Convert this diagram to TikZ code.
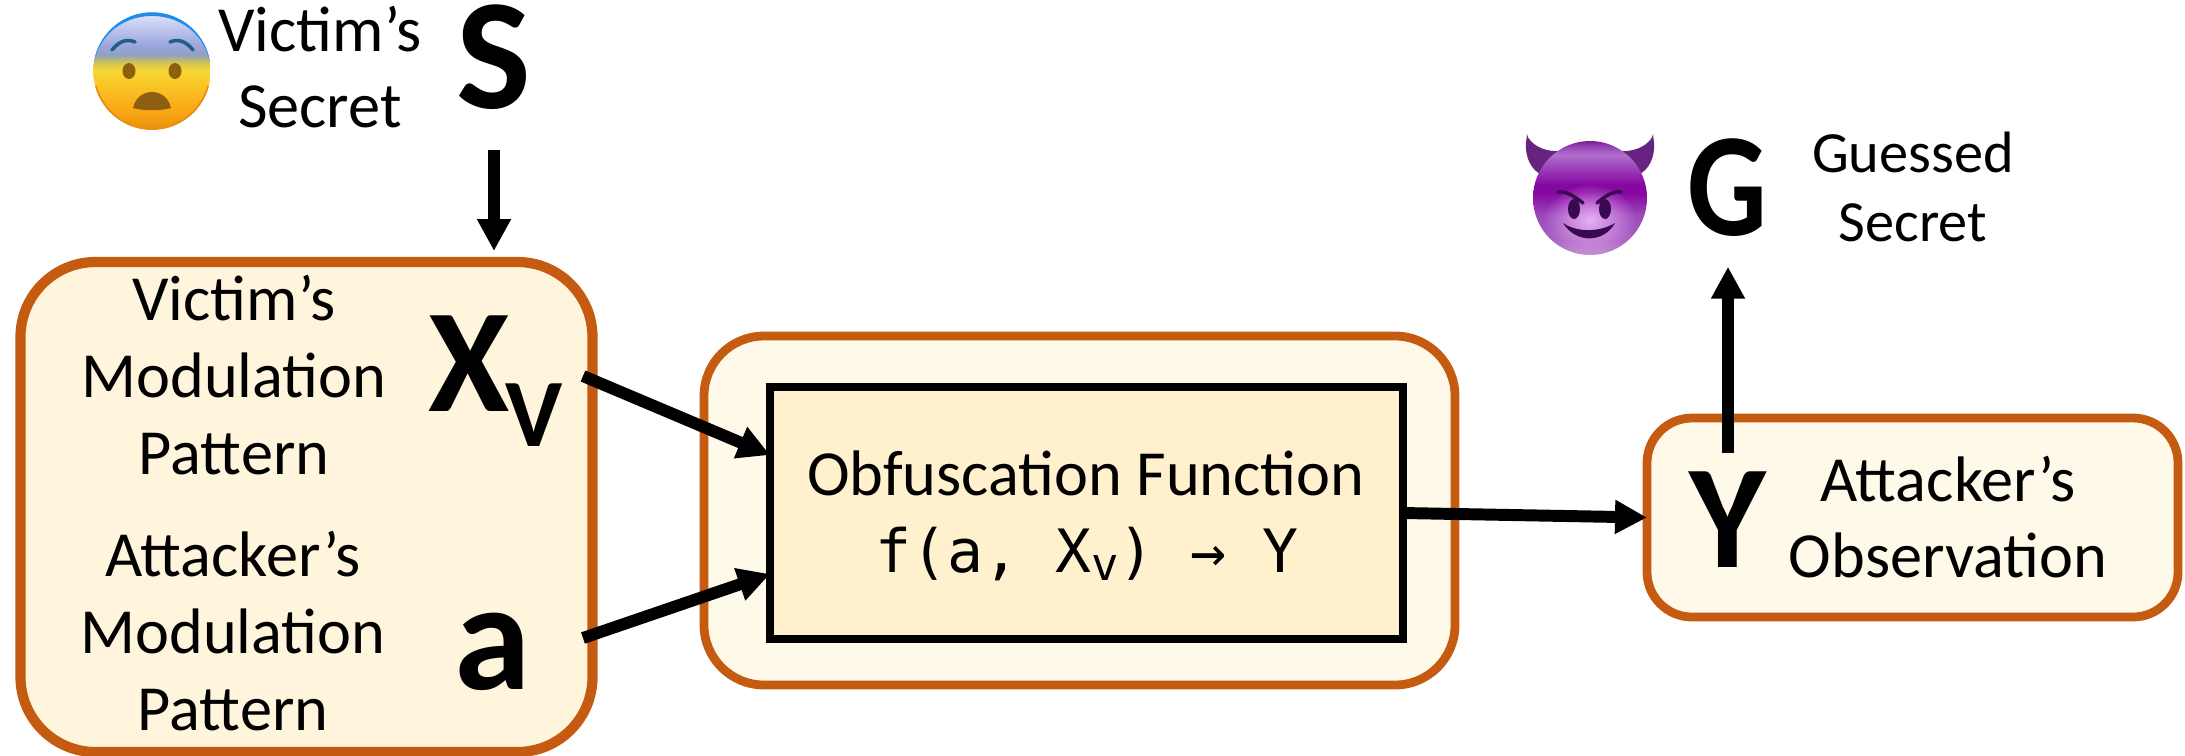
\documentclass[tikz,border=0pt]{standalone}
\usepackage{fontspec}
\setmainfont{Carlito}
\newfontfamily\codefont{DejaVu Sans Mono}
\usetikzlibrary{arrows.meta,fadings}
\definecolor{rimorange}{HTML}{C55A11}
\definecolor{softcream}{HTML}{FFF9E9}
\definecolor{midcream}{HTML}{FFF4DC}
\definecolor{corecream}{HTML}{FFF1CD}
\definecolor{fearbottom}{HTML}{E8900C}
\definecolor{fearamber}{HTML}{FBA816}
\definecolor{fearyellow}{HTML}{F7D832}
\definecolor{fearolive}{HTML}{C8C060}
\definecolor{feargrey}{HTML}{90A0C0}
\definecolor{fearblue}{HTML}{9AA6DE}
\definecolor{fearpale}{HTML}{D8DCF8}
\definecolor{fearrim}{HTML}{1E8CE8}
\definecolor{fearbrow}{HTML}{1F5F7F}
\definecolor{fearbrown}{HTML}{8F5F10}
\definecolor{devillight}{HTML}{E8B0F6}
\definecolor{devilhigh}{HTML}{B070CC}
\definecolor{devilglow}{HTML}{9C4ABB}
\definecolor{devildeep}{HTML}{8608A2}
\definecolor{deviledge}{HTML}{7A1E98}
\definecolor{devillow}{HTML}{A860C0}
\definecolor{devilrim}{HTML}{C090D0}
\definecolor{devilhorn}{HTML}{682280}
\definecolor{devilink}{HTML}{3A0A50}
\pgfdeclareverticalshading{fearshade}{100bp}{
    color(0bp)=(fearbottom); color(25bp)=(fearbottom); color(33.5bp)=(fearamber);
    color(50.4bp)=(fearyellow); color(54bp)=(fearolive); color(57bp)=(feargrey);
    color(61bp)=(fearblue); color(73bp)=(fearpale); color(100bp)=(fearpale)}
\pgfdeclareverticalshading{devilshade}{100bp}{
    color(0bp)=(devilrim); color(25bp)=(devilrim); color(31.6bp)=(devillow);
    color(42.5bp)=(devilglow); color(52bp)=(devildeep); color(56bp)=(devildeep);
    color(69bp)=(devilhigh); color(72bp)=(devilglow); color(75bp)=(deviledge);
    color(100bp)=(deviledge)}
\tikzfading[name=glowfade, inner color=transparent!0, outer color=transparent!100]
\begin{document}
\begin{tikzpicture}[
    softbox/.style={draw=rimorange, line width=2.5pt, fill=softcream, outer sep=0pt},
    corebox/.style={draw=black, line width=2.4pt, fill=corecream, outer sep=0pt},
    plabel/.style={inner sep=0pt, align=center, font=\fontsize{18.3}{21.8}\selectfont},
    bigsym/.style={inner sep=0pt, anchor=base, font=\fontsize{42}{42}\selectfont\bfseries},
    flow/.style={line width=3.4pt, -{Triangle[length=0.32cm, width=0.32cm]}}
]
    \useasboundingbox (0,0) rectangle (21.85,7.55);

    \node[softbox, fill=midcream, line width=2.9pt, rounded corners=0.75cm, minimum width=5.72cm, minimum height=4.9cm] (victimbox) at (3.065,2.48) {};
    \node[softbox, rounded corners=0.6cm, minimum width=7.51cm, minimum height=3.49cm] (obfouter) at (10.795,2.445) {};
    \node[corebox, minimum width=6.33cm, minimum height=2.52cm] (obf) at (10.865,2.42) {};
    \node[softbox, rounded corners=0.45cm, minimum width=5.31cm, minimum height=1.99cm] (obsbox) at (19.125,2.375) {};

    \node[plabel] (victimtxt) at (3.2,6.88) {Victim’s\\Secret};
    \node[bigsym, font=\fontsize{45}{45}\selectfont\bfseries] (secret) at (4.94,6.47) {S};
    \node[plabel] (xvtxt) at (2.34,3.80) {Victim’s\\Modulation\\Pattern};
    \node[plabel] (atxt) at (2.33,1.24) {Attacker’s\\Modulation\\Pattern};
    \node[bigsym, anchor=base west] (xv) at (4.28,3.44) {X\kern-0.05cm\raisebox{-0.35cm}{\fontsize{27.5}{28}\selectfont V}};
    \node[bigsym, font=\fontsize{44}{44}\selectfont\bfseries] (alab) at (4.93,0.66) {a};
    \node[plabel] (obftxt) at (10.86,2.82) {Obfuscation Function};
    \node[inner sep=0pt, anchor=base, font=\fontsize{17}{20}\selectfont\codefont] (obfexpr) at (10.87,1.83) {f(a, X\raisebox{-0.08cm}{\fontsize{13}{13}\selectfont v}) → Y};
    \node[bigsym] (ylab) at (17.28,1.88) {Y};
    \node[plabel] (obstxt) at (19.48,2.38) {Attacker’s\\Observation};
    \node[bigsym, xscale=0.85] (guess) at (17.27,5.2) {G};
    \node[plabel, font=\fontsize{16.6}{19.6}\selectfont] (guesstxt) at (19.13,5.68) {Guessed\\Secret};

    \coordinate (xvout) at (5.83,3.79);
    \coordinate (aout) at (5.83,1.17);

    \draw[flow, shorten <=0.40cm, shorten >=0.11cm] (secret.south) -- (secret.south |- victimbox.north);
    \draw[flow] (xvout) -- ([yshift=0.58cm]obf.west);
    \draw[flow] (aout) -- ([yshift=-0.61cm]obf.west);
    \draw[flow] (obf.east) -- (obsbox.west);
    \draw[flow] ([yshift=0.18cm]ylab.north) -- ([xshift=0.01cm,yshift=-0.30cm]guess.south);

    % frightened face
    \begin{scope}[shift={(1.52,6.84)}]
        \shade[shading=fearshade] (0,0) circle (0.587);
        \fill[color=fearrim] (172:0.587) arc (172:8:0.587) .. controls (0.45,0.707) and (-0.45,0.707) .. cycle;
        \draw[color=fearbottom, line width=0.5pt] (195:0.58) arc (195:345:0.58);
        \fill[color=fearbrown] (-0.23,0) ellipse (0.065 and 0.08);
        \fill[color=fearbrown] (0.23,0) ellipse (0.065 and 0.08);
        \draw[color=fearbrow, line width=1pt, line cap=round] (-0.40,0.21) .. controls (-0.32,0.31) and (-0.24,0.32) .. (-0.17,0.29);
        \draw[color=fearbrow, line width=1pt, line cap=round] (0.41,0.21) .. controls (0.33,0.31) and (0.25,0.32) .. (0.18,0.29);
        \fill[color=fearbrown] (-0.19,-0.37) .. controls (-0.16,-0.24) and (-0.06,-0.21) .. (0,-0.21) .. controls (0.06,-0.21) and (0.16,-0.24) .. (0.19,-0.37) .. controls (0.08,-0.40) and (-0.08,-0.40) .. cycle;
    \end{scope}

    % grinning devil
    \begin{scope}[shift={(15.90,5.57)}]
        \fill[color=devilhorn, rounded corners=0.02cm] (-0.63,0.62) .. controls (-0.55,0.50) and (-0.42,0.46) .. (-0.26,0.47) -- (-0.50,0.24) .. controls (-0.62,0.32) and (-0.66,0.47) .. cycle;
        \fill[color=devilhorn, rounded corners=0.02cm] (0.63,0.62) .. controls (0.55,0.50) and (0.42,0.46) .. (0.26,0.47) -- (0.50,0.24) .. controls (0.62,0.32) and (0.66,0.47) .. cycle;
        \shade[shading=devilshade] (0,0) circle (0.57);
        \fill[color=devillight, path fading=glowfade] (0,-0.22) ellipse (0.46 and 0.36);
        \fill[color=devilink] (-0.16,-0.11) ellipse (0.06 and 0.10);
        \fill[color=devilink] (0.15,-0.11) ellipse (0.06 and 0.10);
        \draw[color=devilink, line width=1pt, line cap=round] (-0.32,0.06) .. controls (-0.24,0.08) and (-0.14,0) .. (-0.07,-0.05);
        \draw[color=devilink, line width=1pt, line cap=round] (0.31,0.06) .. controls (0.23,0.08) and (0.13,0) .. (0.07,-0.05);
        \fill[color=devilink] (-0.27,-0.25) .. controls (-0.12,-0.35) and (0.10,-0.34) .. (0.25,-0.25) .. controls (0.14,-0.45) and (-0.14,-0.46) .. cycle;
    \end{scope}
\end{tikzpicture}
\end{document}
